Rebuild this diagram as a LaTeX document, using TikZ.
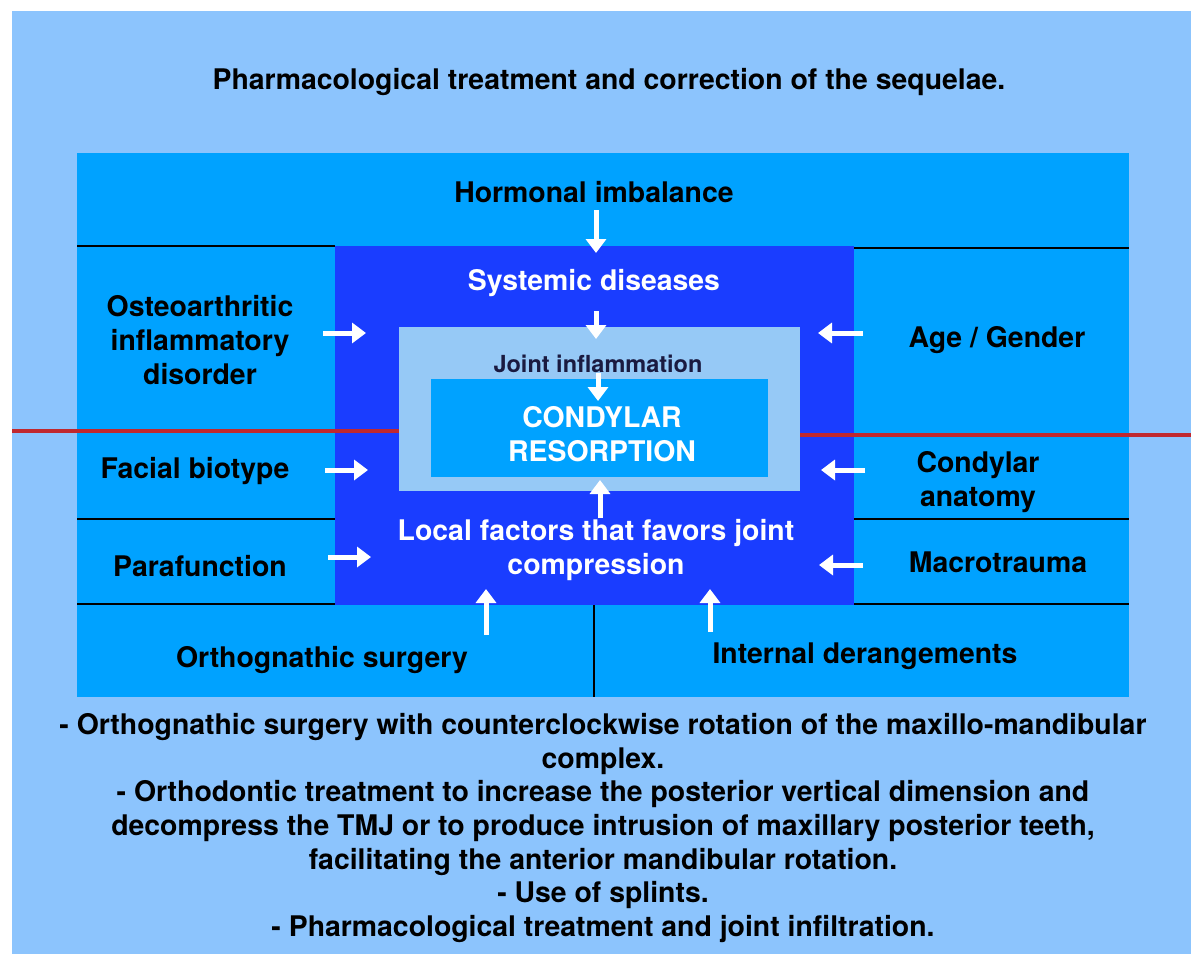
\documentclass[tikz,border=0pt]{standalone}
\usepackage{fontspec}
\setmainfont{TeX Gyre Heros}
\usetikzlibrary{arrows.meta}
\definecolor{bglight}{HTML}{8CC4FD}
\definecolor{medblue}{HTML}{00A2FF}
\definecolor{darkblue}{HTML}{1A3DFF}
\definecolor{innerlight}{HTML}{96C9F6}
\definecolor{redline}{HTML}{C0282F}
\definecolor{navytext}{HTML}{1A1A40}
\tikzset{
  lbl/.style={font=\fontsize{28.4}{34}\selectfont\bfseries, align=center, inner sep=0pt, yshift=-2pt},
  wlbl/.style={lbl, text=white},
  warrow/.style={draw=white, line width=5pt, -{Triangle[width=20pt,length=14pt]}},
  sep/.style={draw=black, line width=2pt},
}
\begin{document}
\begin{tikzpicture}[x=1pt,y=-1pt]
\useasboundingbox (0,0) rectangle (1191,954);
\fill[white] (0,0) rectangle (1191,954);
\fill[bglight] (12,11) rectangle (1191,954);
% boxes
\fill[medblue] (77,153) rectangle (1129,697);
\fill[darkblue] (335,246) rectangle (854,605);
\fill[innerlight] (399,327) rectangle (800,491);
\fill[medblue] (431,379) rectangle (768,477);
% separators
\draw[sep] (77,246) -- (335,246);
\draw[sep] (854,248) -- (1129,248);
\draw[sep] (77,519) -- (335,519);
\draw[sep] (77,604) -- (335,604);
\draw[sep] (854,519) -- (1129,519);
\draw[sep] (854,604) -- (1129,604);
\draw[sep] (594,605) -- (594,697);
% red lines
\draw[redline, line width=3.5pt] (12,431) -- (399,431);
\draw[redline, line width=3.5pt] (800,435) -- (1191,435);
% texts
\node[lbl] (title) at (609,80) {Pharmacological treatment and correction of the sequelae.};
\node[lbl] (hormonal) at (594,190) {Hormonal imbalance};
\node[wlbl] (systemic) at (594,281) {Systemic diseases};
\node[lbl] (osteo) at (200,338) {Osteoarthritic\\inflammatory\\disorder};
\node[lbl] (age) at (997,338) {Age / Gender};
\node[lbl, text=navytext, font=\fontsize{23.5}{26}\selectfont\bfseries] (joint) at (598,362) {Joint inflammation};
\node[wlbl] (condylar) at (602,432) {CONDYLAR\\RESORPTION};
\node[lbl] (facial) at (195,469) {Facial biotype};
\node[lbl] (anatomy) at (978,480) {Condylar\\anatomy};
\node[lbl] (parafunction) at (200,564) {Parafunction};
\node[wlbl] (local) at (596,548) {Local factors that favors joint\\compression};
\node[lbl] (macro) at (998,560) {Macrotrauma};
\node[lbl] (ortho) at (322,658) {Orthognathic surgery};
\node[lbl] (internal) at (865,654) {Internal derangements};
\node[lbl, font=\fontsize{28.4}{33.7}\selectfont\bfseries] (bottom) at (603,826) {- Orthognathic surgery with counterclockwise rotation of the maxillo-mandibular\\complex.\\- Orthodontic treatment to increase the posterior vertical dimension and\\decompress the TMJ or to produce intrusion of maxillary posterior teeth,\\facilitating the anterior mandibular rotation.\\- Use of splints.\\- Pharmacological treatment and joint infiltration.};
% arrow coordinates
\coordinate (a1s) at (596,210); \coordinate (a1e) at (596,253);
\coordinate (a2s) at (596,311); \coordinate (a2e) at (596,339);
\coordinate (a3s) at (598,373); \coordinate (a3e) at (598,401);
\coordinate (a4s) at (600,518); \coordinate (a4e) at (600,480);
\coordinate (l1s) at (323,333); \coordinate (l1e) at (366,333);
\coordinate (l2s) at (325,470); \coordinate (l2e) at (368,470);
\coordinate (l3s) at (328,557); \coordinate (l3e) at (371,557);
\coordinate (r1s) at (863,333); \coordinate (r1e) at (818,333);
\coordinate (r2s) at (865,470); \coordinate (r2e) at (821,470);
\coordinate (r3s) at (863,565); \coordinate (r3e) at (819,565);
\coordinate (b1s) at (486,635); \coordinate (b1e) at (486,589);
\coordinate (b2s) at (710,632); \coordinate (b2e) at (710,589);
\foreach \a in {a1,a2,a3,a4,l1,l2,l3,r1,r2,r3,b1,b2}
  \draw[warrow] (\a s) -- (\a e);
\end{tikzpicture}
\end{document}
